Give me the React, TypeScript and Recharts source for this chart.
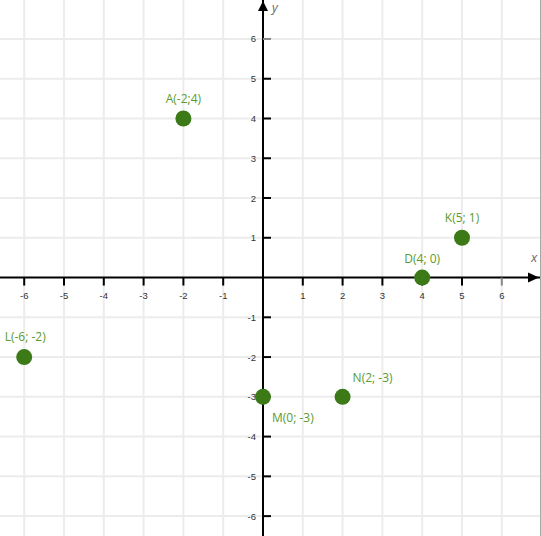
import React from 'react';
import {
  ScatterChart, Scatter, XAxis, YAxis, ReferenceLine, ReferenceDot
} from 'recharts';

// Points on the plane
const pointNames = ['A', 'K', 'D', 'L', 'M', 'N'];
const pointX = [-2, 5, 4, -6, 0, 2];
const pointY = [4, 1, 0, -2, -3, -3];
const pointLabels = ['A(-2;4)', 'K(5; 1)', 'D(4; 0)', 'L(-6; -2)', 'M(0; -3)', 'N(2; -3)'];

// Axis ticks
const xTicks = [-6, -5, -4, -3, -2, -1, 1, 2, 3, 4, 5, 6];
const yTicks = [-6, -5, -4, -3, -2, -1, 1, 2, 3, 4, 5, 6];
const gridTicks = [-6, -5, -4, -3, -2, -1, 1, 2, 3, 4, 5, 6];

const X_MIN = -6.608;
const X_MAX = 6.96;
const Y_MIN = -6.5;
const Y_MAX = 6.98;

const DOT = '#3b7a17';
const LABEL = '#5b9b30';
const FONT = '"Open Sans", "Noto Sans", sans-serif';

// where each label sits relative to its point
const labelPlacement: { [key: string]: { dx: number; dy: number; anchor: 'middle' | 'start' } } = {
  A: { dx: 0, dy: -15, anchor: 'middle' },
  K: { dx: 0, dy: -16, anchor: 'middle' },
  D: { dx: 0, dy: -15, anchor: 'middle' },
  L: { dx: 1, dy: -16, anchor: 'middle' },
  M: { dx: 9, dy: 25, anchor: 'start' },
  N: { dx: 10, dy: -15, anchor: 'start' },
};

const points = pointNames.map((name, i) => ({
  name,
  x: pointX[i],
  y: pointY[i],
  label: pointLabels[i],
}));

const PointShape = (props: any) => {
  const { cx, cy, payload } = props;
  const p = labelPlacement[payload.name];
  return (
    <g>
      <circle cx={cx} cy={cy} r={8} fill={DOT} />
      <text
        x={cx + p.dx}
        y={cy + p.dy}
        textAnchor={p.anchor}
        fill={LABEL}
        fontSize={12}
        fontFamily={FONT}
      >
        {payload.label}
      </text>
    </g>
  );
};

const XTickShape = (value: number) => (props: any) => {
  const { cx, cy } = props;
  const color = value === 6 ? '#888' : '#000';
  return (
    <g>
      <line x1={cx} y1={cy} x2={cx} y2={cy + 8} stroke={color} strokeWidth={2} />
      <text x={cx} y={cy + 21} textAnchor="middle" fontSize={9.5} fill="#333" fontFamily="Liberation Sans, Arial, sans-serif">
        {value}
      </text>
    </g>
  );
};

const YTickShape = (value: number) => (props: any) => {
  const { cx, cy } = props;
  const color = value === 6 ? '#888' : '#000';
  return (
    <g>
      <line x1={cx} y1={cy} x2={cx + 8} y2={cy} stroke={color} strokeWidth={2} />
      <text x={cx - 7} y={cy + 3.5} textAnchor="end" fontSize={9.5} fill="#333" fontFamily="Liberation Sans, Arial, sans-serif">
        {value}
      </text>
    </g>
  );
};

const XArrow = (props: any) => {
  const { cx, cy } = props;
  const tip = cx - 1;
  return (
    <g>
      <polygon points={`${tip},${cy} ${tip - 11},${cy - 5} ${tip - 11},${cy + 5}`} fill="#000" />
      <text x={tip - 5} y={cy - 16} textAnchor="middle" fontSize={13} fontStyle="italic" fill="#666" fontFamily={FONT}>
        x
      </text>
    </g>
  );
};

const YArrow = (props: any) => {
  const { cx, cy } = props;
  const tip = cy + 1;
  return (
    <g>
      <polygon points={`${cx},${tip} ${cx - 5},${tip + 10} ${cx + 5},${tip + 10}`} fill="#000" />
      <text x={cx + 9} y={tip + 11} textAnchor="start" fontSize={12.5} fontStyle="italic" fill="#666" fontFamily={FONT}>
        y
      </text>
    </g>
  );
};

export default function App() {
  return (
    <div style={{ width: 540, height: 536, borderRight: '1px solid #a8a8a8', background: '#fff' }}>
      <style>{'body{margin:0}'}</style>
      <ScatterChart width={540} height={536} margin={{ top: 0, right: 0, bottom: 0, left: 0 }}>
        <XAxis
          type="number"
          dataKey="x"
          domain={[X_MIN, X_MAX]}
          height={0}
          tick={false}
          axisLine={false}
          tickLine={false}
          allowDataOverflow
        />
        <YAxis
          type="number"
          dataKey="y"
          domain={[Y_MIN, Y_MAX]}
          width={0}
          tick={false}
          axisLine={false}
          tickLine={false}
          allowDataOverflow
        />
        {/* grid */}
        {gridTicks.map(v => (
          <ReferenceLine key={`gx${v}`} x={v} stroke="#ececec" strokeWidth={2} />
        ))}
        {gridTicks.map(v => (
          <ReferenceLine key={`gy${v}`} y={v} stroke="#ececec" strokeWidth={2} />
        ))}
        {/* axes */}
        <ReferenceLine y={0} stroke="#000" strokeWidth={2} ifOverflow="visible" />
        <ReferenceLine x={0} stroke="#000" strokeWidth={2} ifOverflow="visible" />
        {xTicks.map(v => (
          <ReferenceDot key={`xt${v}`} x={v} y={0} r={0} ifOverflow="visible" shape={XTickShape(v)} />
        ))}
        {yTicks.map(v => (
          <ReferenceDot key={`yt${v}`} x={0} y={v} r={0} ifOverflow="visible" shape={YTickShape(v)} />
        ))}
        <ReferenceDot x={X_MAX} y={0} r={0} ifOverflow="visible" shape={XArrow} />
        <ReferenceDot x={0} y={Y_MAX} r={0} ifOverflow="visible" shape={YArrow} />
        <Scatter data={points} shape={PointShape} isAnimationActive={false} />
      </ScatterChart>
    </div>
  );
}
